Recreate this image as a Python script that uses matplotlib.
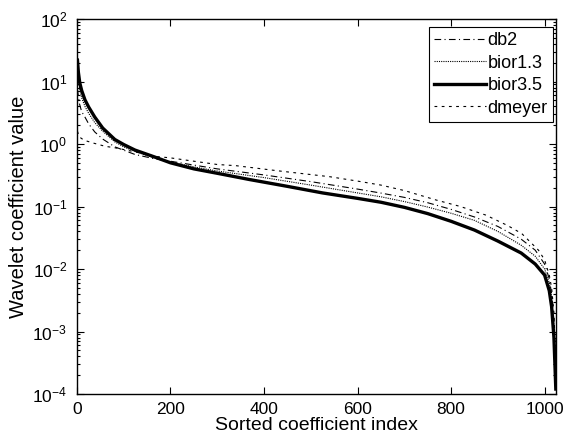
import numpy as np
import matplotlib
matplotlib.use("Agg")
import matplotlib.pyplot as plt
from matplotlib.ticker import LogLocator, NullFormatter

plt.rcParams['font.family'] = ['Liberation Sans', 'DejaVu Sans']
plt.rcParams['mathtext.fontset'] = 'custom'
plt.rcParams['mathtext.rm'] = 'Liberation Sans'
plt.rcParams['mathtext.it'] = 'Liberation Sans'
plt.rcParams['mathtext.default'] = 'regular'

# sorted wavelet coefficient magnitudes
db2_x = [1, 5, 10, 17, 25, 38, 55, 81, 124, 166, 200, 250, 300, 400, 500, 600,
         650, 700, 750, 800, 850, 900, 950, 980, 1000, 1010, 1015, 1020, 1024]
db2_y = [7.5, 4.5, 3.3, 2.7, 2.1, 1.56, 1.2, 0.9, 0.68, 0.58, 0.53, 0.46, 0.40,
         0.32, 0.25, 0.19, 0.164, 0.14, 0.115, 0.09, 0.068, 0.048, 0.03, 0.02,
         0.012, 0.007, 0.004, 0.0015, 0.0002]

bior13_x = [1, 3, 6, 10, 17, 25, 38, 55, 81, 100, 124, 166, 200, 250, 300, 400,
            500, 600, 650, 700, 750, 800, 850, 900, 950, 980, 1000, 1010, 1015,
            1020, 1024]
bior13_y = [17, 11, 7.5, 5.5, 4.0, 3.1, 2.2, 1.6, 1.08, 0.9, 0.76, 0.6, 0.52,
            0.43, 0.37, 0.29, 0.22, 0.165, 0.143, 0.12, 0.098, 0.078, 0.06, 0.04,
            0.024, 0.016, 0.01, 0.006, 0.0035, 0.0012, 0.00015]

bior35_x = [1, 3, 6, 10, 17, 25, 38, 55, 81, 100, 124, 166, 200, 250, 300, 369,
            450, 525, 600, 650, 700, 750, 800, 850, 900, 950, 980, 1000, 1010,
            1015, 1020, 1024]
bior35_y = [22, 14, 9.5, 7.2, 5.1, 3.9, 2.7, 1.8, 1.18, 0.98, 0.80, 0.62, 0.50,
            0.40, 0.34, 0.27, 0.21, 0.165, 0.135, 0.117, 0.097, 0.077, 0.058,
            0.042, 0.028, 0.018, 0.012, 0.008, 0.0045, 0.0025, 0.0008, 0.00012]

dmeyer_x = [1, 5, 15, 34, 60, 85, 120, 170, 200, 235, 300, 340, 433, 540, 600,
            650, 700, 768, 820, 874, 920, 951, 987, 1000, 1010, 1015, 1020, 1024]
dmeyer_y = [1.6, 1.3, 1.15, 1.04, 0.92, 0.86, 0.76, 0.63, 0.6, 0.55, 0.47, 0.45,
            0.37, 0.30, 0.255, 0.22, 0.18, 0.127, 0.1, 0.073, 0.05, 0.037, 0.02,
            0.014, 0.008, 0.005, 0.002, 0.0003]

x_ticks = [0, 200, 400, 600, 800, 1000]

fig = plt.figure(figsize=(5.66, 4.42), dpi=100)
ax = fig.add_axes([0.136, 0.1086, 0.846, 0.8484])

ax.semilogy(db2_x, db2_y, color='black', lw=0.8, ls=(0, (6, 3, 1, 3)), label='db2')
ax.semilogy(bior13_x, bior13_y, color='black', lw=0.8, ls=(0, (1, 1)), label='bior1.3')
ax.semilogy(bior35_x, bior35_y, color='black', lw=2.4, ls='-', label='bior3.5')
ax.semilogy(dmeyer_x, dmeyer_y, color='black', lw=0.8, ls=(0, (2.5, 4)), label='dmeyer')

ax.set_xlim(0, 1024)
ax.set_ylim(1e-4, 1e2)
ax.set_xticks(x_ticks)
ax.yaxis.set_major_locator(LogLocator(base=10, numticks=10))
ax.yaxis.set_minor_locator(LogLocator(base=10, subs=np.arange(2, 10), numticks=10))
ax.yaxis.set_minor_formatter(NullFormatter())

ax.tick_params(which='both', direction='in', top=True, right=True,
               labelsize=12.5, width=0.8)
ax.tick_params(which='major', length=5)
ax.tick_params(which='minor', length=2.5)
ax.tick_params(axis='x', pad=6)
ax.tick_params(axis='y', pad=7)
for sp in ax.spines.values():
    sp.set_linewidth(1.0)

ax.set_xlabel('Sorted coefficient index', fontsize=14, labelpad=0)
ax.set_ylabel('Wavelet coefficient value', fontsize=14.5, labelpad=3)

leg = ax.legend(loc='upper right', bbox_to_anchor=(0.994, 0.979),
                borderaxespad=0, fontsize=13, handlelength=2.9,
                handletextpad=0.05, labelspacing=0.3, borderpad=0.3,
                fancybox=False, framealpha=1, edgecolor='black')
leg.get_frame().set_linewidth(0.8)

fig.savefig('out.png', dpi=100)
